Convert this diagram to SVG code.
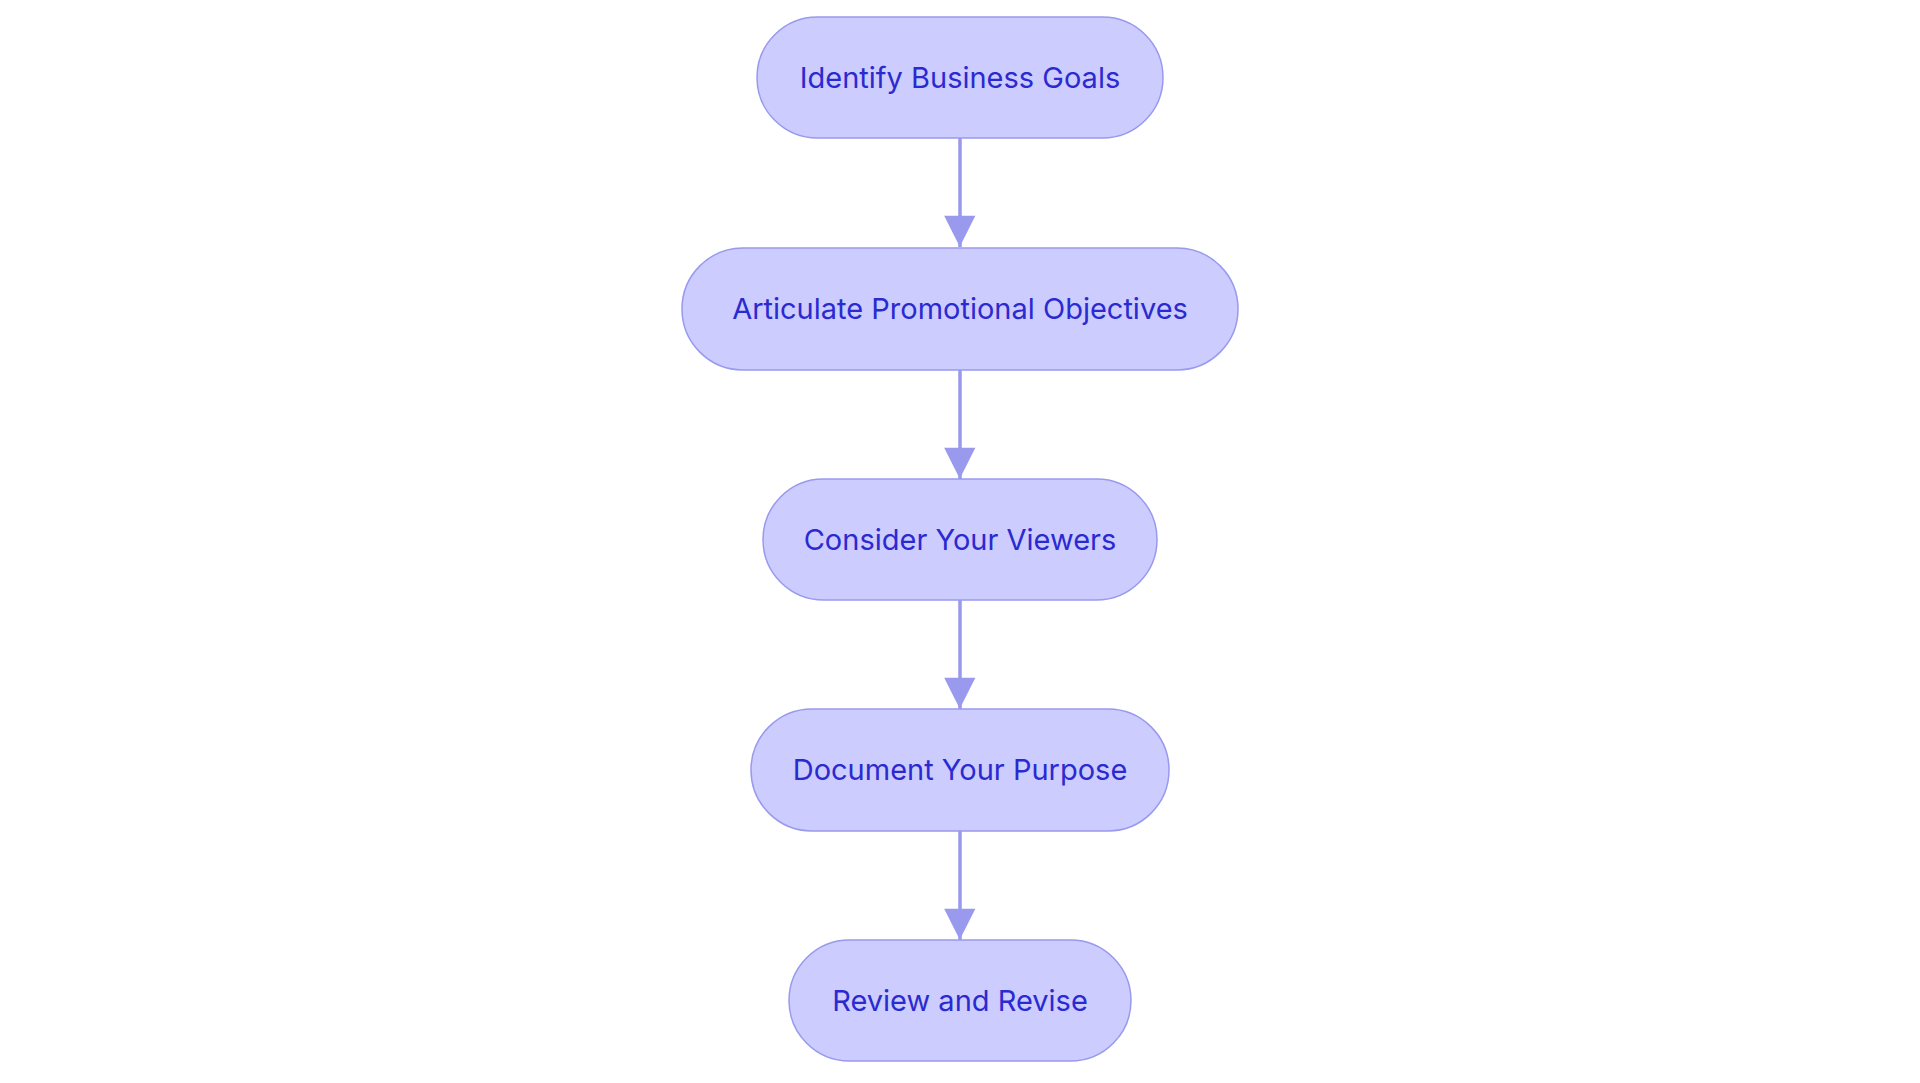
<svg xmlns="http://www.w3.org/2000/svg" width="1920" height="1083" viewBox="0 0 1920 1083">
<style>
.n{fill:#ccccff;stroke:#9999ee;stroke-width:1.5}
.t{font-family:Inter,"Noto Sans",sans-serif;font-size:29px;fill:#2a2ad0;text-anchor:middle;dominant-baseline:central}
.e{stroke:#9999ee;stroke-width:3.5;fill:none;marker-end:url(#a)}
</style>
<defs><marker id="a" markerWidth="12" markerHeight="12" refX="10" refY="5" viewBox="0 0 10 10" orient="auto" markerUnits="userSpaceOnUse" style="overflow:visible"><path d="M0,0 L10,5 L0,10 z" fill="#9999ee" transform="scale(2.6) translate(-6.2,-3)"/></marker></defs>
<rect width="1920" height="1083" fill="#fff"/>
<g id="edges">
<line class="e" x1="960" y1="138" x2="960" y2="247"/>
<line class="e" x1="960" y1="370" x2="960" y2="479"/>
<line class="e" x1="960" y1="600" x2="960" y2="709"/>
<line class="e" x1="960" y1="831" x2="960" y2="940"/>
</g>
<g id="n1"><rect class="n" x="757" y="17" width="406" height="121" rx="60.5"/><text class="t" x="960" y="77">Identify Business Goals</text></g>
<g id="n2"><rect class="n" x="682" y="248" width="556" height="122" rx="61"/><text class="t" x="960" y="308">Articulate Promotional Objectives</text></g>
<g id="n3"><rect class="n" x="763" y="479" width="394" height="121" rx="60.5"/><text class="t" x="960" y="539">Consider Your Viewers</text></g>
<g id="n4"><rect class="n" x="751" y="709" width="418" height="122" rx="61"/><text class="t" x="960" y="769">Document Your Purpose</text></g>
<g id="n5"><rect class="n" x="789" y="940" width="342" height="121" rx="60.5"/><text class="t" x="960" y="1000">Review and Revise</text></g>
</svg>
